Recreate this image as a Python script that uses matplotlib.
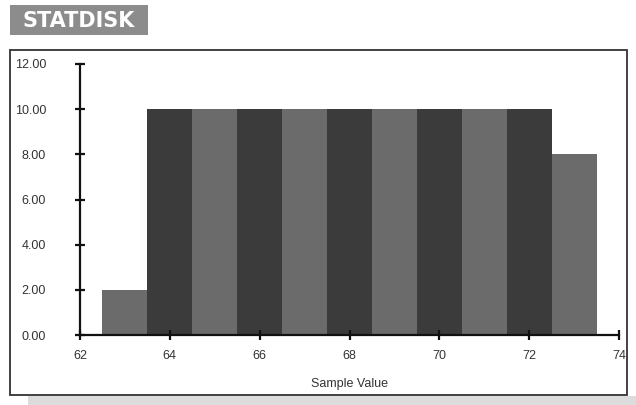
import numpy as np
import matplotlib.pyplot as plt
from matplotlib.patches import Rectangle

plt.rcParams['font.family'] = ['Liberation Sans Narrow', 'Liberation Sans', 'DejaVu Sans']

# Histogram data
bin_centers = [63, 64, 65, 66, 67, 68, 69, 70, 71, 72, 73]
frequencies = [2, 10, 10, 10, 10, 10, 10, 10, 10, 10, 8]
x_ticks = [62, 64, 66, 68, 70, 72, 74]
y_ticks = [0, 2, 4, 6, 8, 10, 12]

dark = '#3b3b3b'
light = '#6b6b6b'
colors = [light if i % 2 == 0 else dark for i in range(len(bin_centers))]

W, H = 636, 405
fig = plt.figure(figsize=(W / 100, H / 100), dpi=100)

def px(x0, y0, x1, y1):
    # pixel box (top-left origin) -> figure fraction rect
    return (x0 / W, 1 - y1 / H, (x1 - x0) / W, (y1 - y0) / H)

def add_box(box, **kw):
    x, y, w, h = px(*box)
    fig.add_artist(Rectangle((x, y), w, h, transform=fig.transFigure, zorder=-10, **kw))
    return x, y, w, h

# header label
x, y, w, h = add_box((10, 5, 148, 35), facecolor='#8c8c8c', edgecolor='none')
fig.text(x + w / 2, y + h / 2 - 0.002, 'STATDISK', color='white', fontsize=15,
         fontweight='bold', ha='center', va='center', family='DejaVu Sans')

# shadow strip under the panel and the panel border
add_box((28, 396, 636, 405), facecolor='#dcdcdc', edgecolor='none')
add_box((10, 50, 627, 395), facecolor='white', edgecolor='#333333', linewidth=1.3)

ax = fig.add_axes(px(80, 64, 619, 335))
ax.bar(bin_centers, frequencies, width=1.0, color=colors, edgecolor='none')
ax.set_xlim(62, 74)
ax.set_ylim(0, 12)
ax.set_xticks(x_ticks)
ax.set_yticks(y_ticks)
ax.set_yticklabels([f'{v:.2f}' for v in y_ticks])
ax.set_facecolor('none')
for s in ['top', 'right']:
    ax.spines[s].set_visible(False)
for s in ['left', 'bottom']:
    ax.spines[s].set_linewidth(1.6)
    ax.spines[s].set_color('#111111')
ax.tick_params(axis='both', direction='inout', length=7, width=1.6,
               labelsize=9, colors='#111111', labelcolor='#333333')
ax.tick_params(axis='y', pad=21)
ax.tick_params(axis='x', pad=7)
ax.set_xlabel('Sample Value', fontsize=9, color='#333333', labelpad=12)

plt.savefig('out.png', dpi=100)
